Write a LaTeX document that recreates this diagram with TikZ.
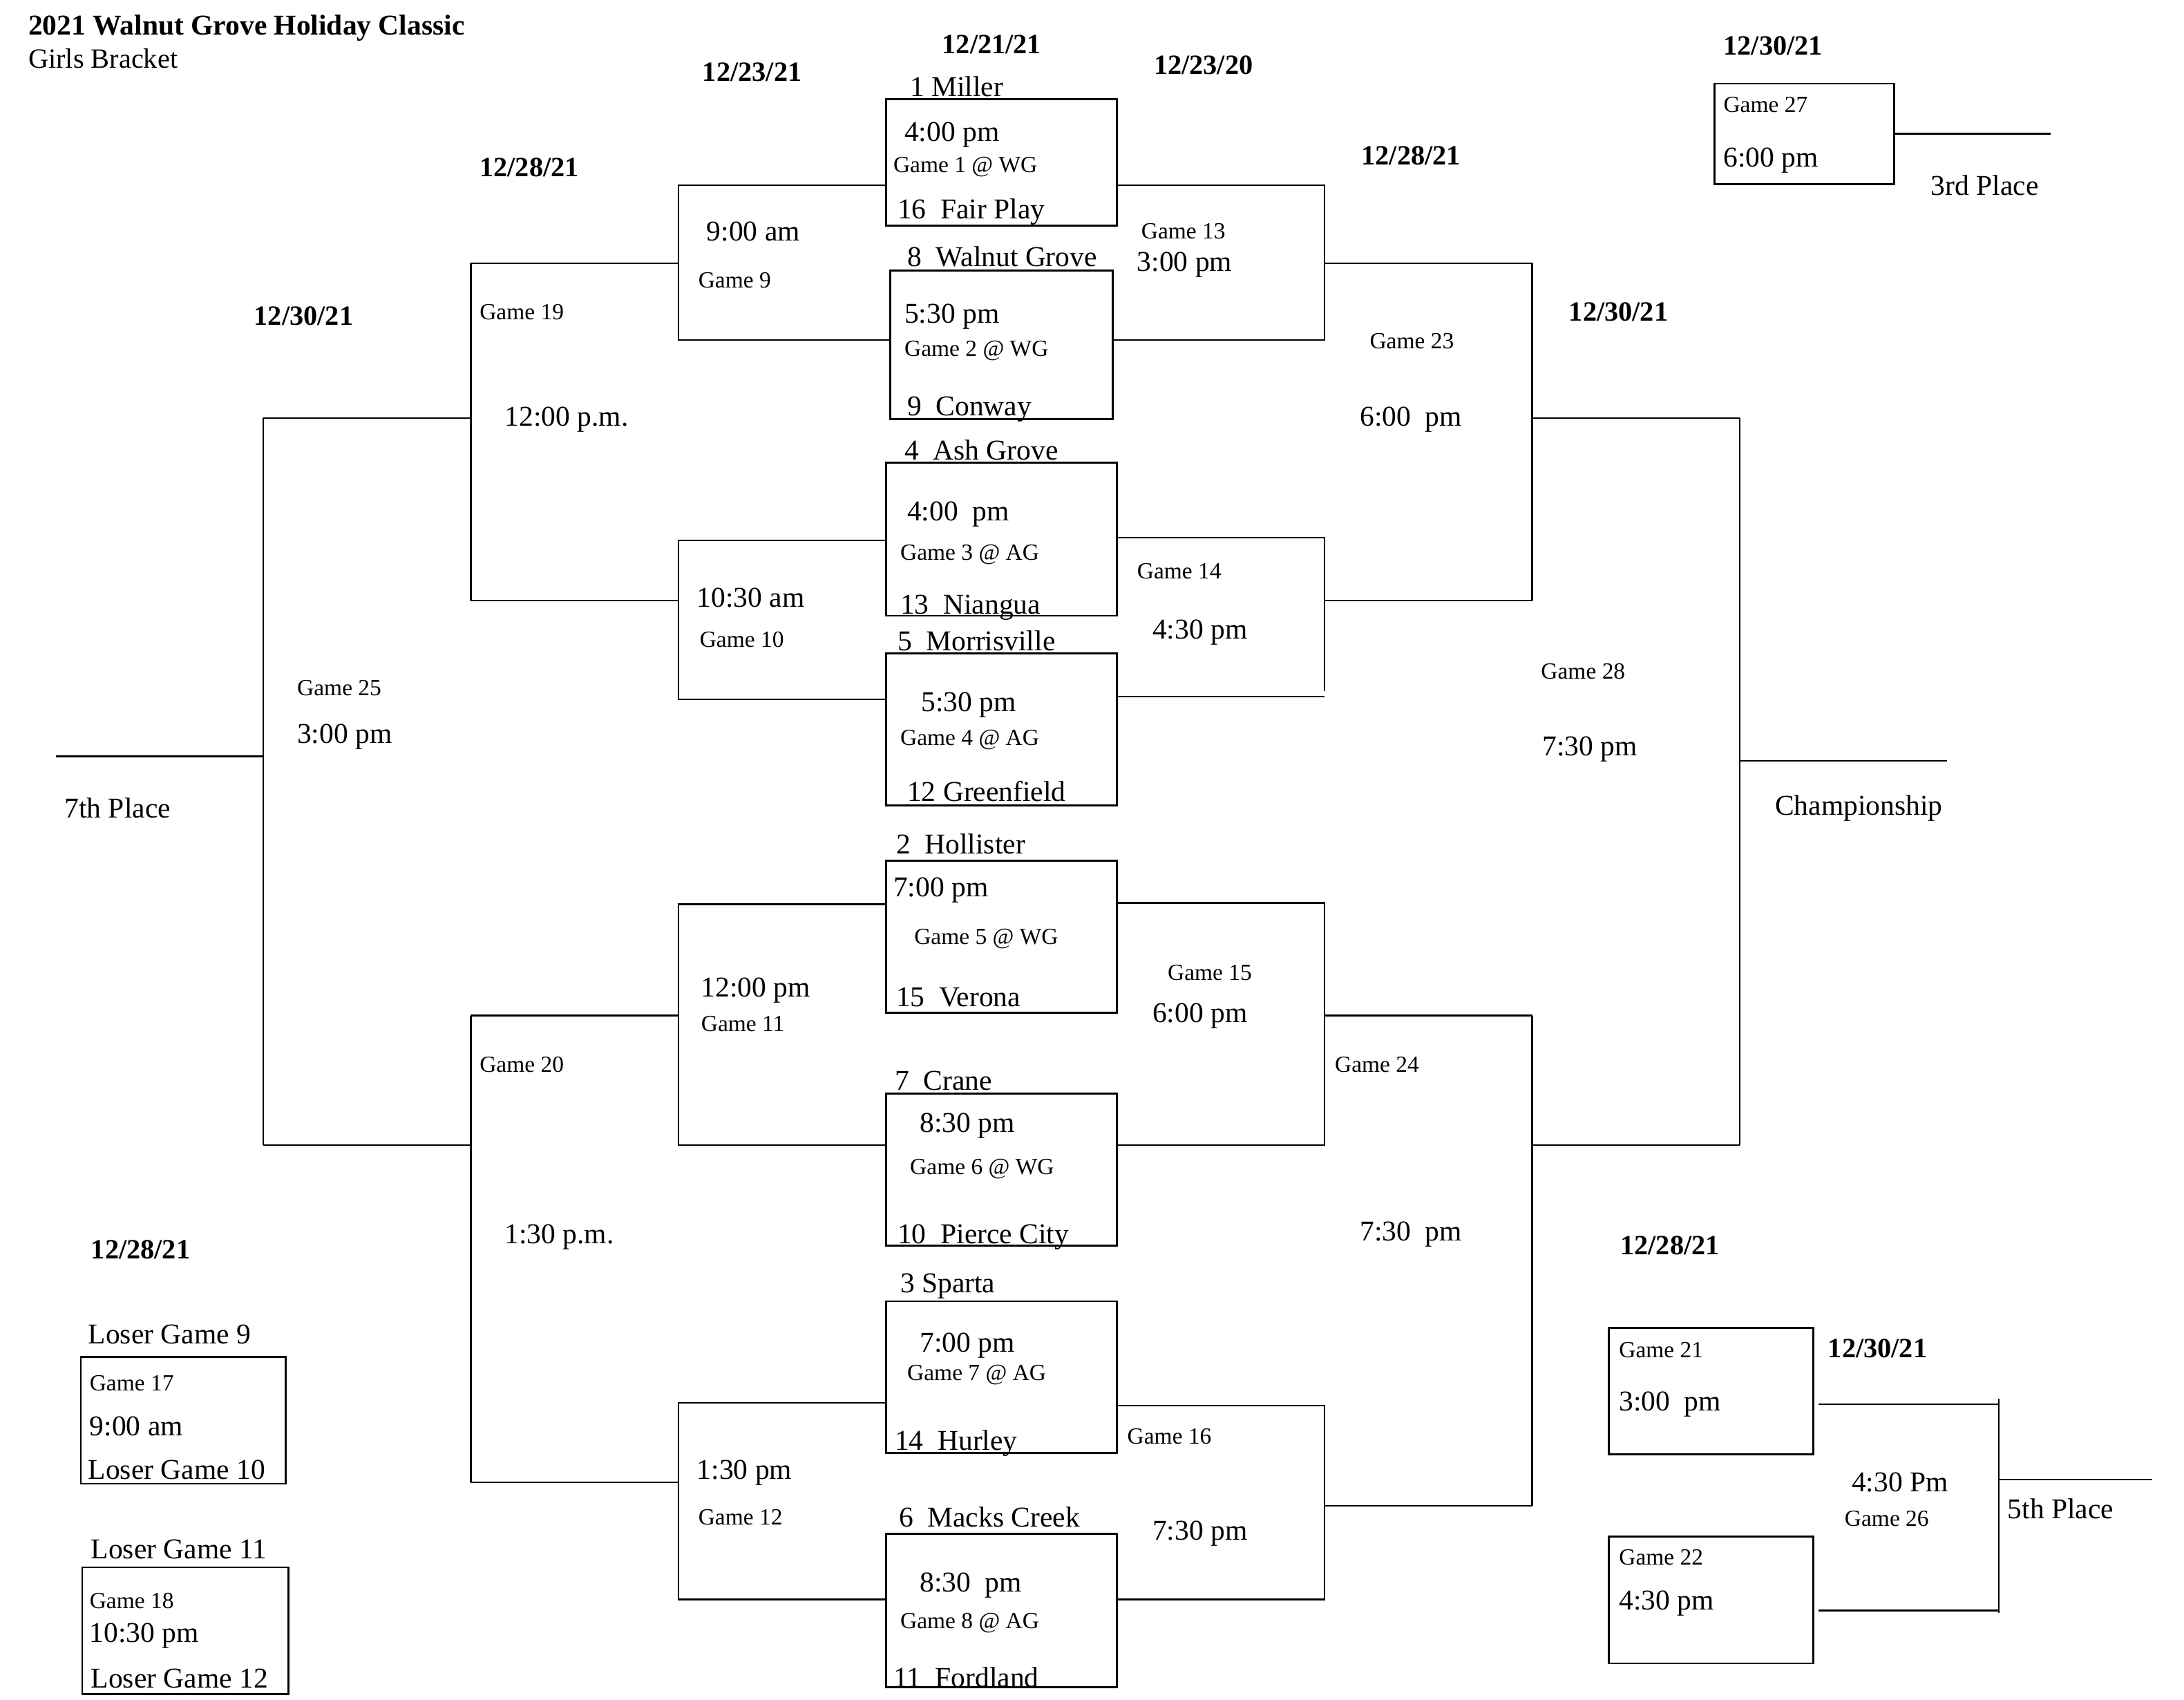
\documentclass[tikz,border=0pt]{standalone}
\usepackage{fontspec}
\setmainfont{Liberation Serif}
\usetikzlibrary{fit}
\begin{document}
\begin{tikzpicture}[x=0.5pt,y=-0.5pt,
  ln/.style={line width=0.6pt},
  gbox/.style={draw,line width=0.7pt,inner sep=0pt},
  big/.style={anchor=west,inner sep=0pt,yshift=-1pt,font=\fontsize{10.3}{12}\selectfont},
  small/.style={anchor=west,inner sep=0pt,yshift=-1pt,font=\fontsize{8.3}{10}\selectfont},
  dt/.style={anchor=center,inner sep=0pt,font=\fontsize{10}{12}\selectfont\bfseries}]
\useasboundingbox[fill=white] (0,0) rectangle (1568,1220);

% title
\node[anchor=west,inner sep=0pt,font=\fontsize{10.3}{12}\selectfont\bfseries] (title) at (20,20) {2021 Walnut Grove Holiday Classic};
\node[anchor=west,inner sep=0pt,font=\fontsize{10}{12}\selectfont] (subtitle) at (20,42) {Girls Bracket};

% dates
\foreach \x/\y/\t [count=\i] in {712/32/{12/21/21}, 540/52/{12/23/21}, 864/47/{12/23/20}, 380/120/{12/28/21}, 1013/112/{12/28/21}, 218/227/{12/30/21}, 1162/224/{12/30/21}, 1273/33/{12/30/21}, 101/897/{12/28/21}, 1199/894/{12/28/21}, 1348/968/{12/30/21}}
  \node[dt,name=d\i] at (\x,\y) {\t};

% game boxes
\node[gbox,fit={(636,71) (802,162)}] (g1) {};
\node[gbox,fit={(639,194) (799,301)}] (g2) {};
\node[gbox,fit={(636,332) (802,442)}] (g3) {};
\node[gbox,fit={(636,469) (802,578)}] (g4) {};
\node[gbox,fit={(636,618) (802,727)}] (g5) {};
\node[gbox,fit={(636,785) (802,894)}] (g6) {};
\node[gbox,fit={(636,934) (802,1043)}] (g7) {};
\node[gbox,fit={(636,1101) (802,1211)}] (g8) {};
\node[gbox,fit={(1231,60) (1360,132)}] (g27) {};
\node[gbox,fit={(58,974) (205,1065)}] (g17) {};
\node[gbox,fit={(59,1125) (207,1216)}] (g18) {};
\node[gbox,fit={(1155,953) (1302,1044)}] (g21) {};
\node[gbox,fit={(1155,1103) (1302,1194)}] (g22) {};

% bracket coordinates
\coordinate (a9) at (487,133);  \coordinate (b9) at (487,244);  \coordinate (o9) at (338,189);
\coordinate (a13) at (951,133); \coordinate (b13) at (951,244); \coordinate (o13) at (1100,189);
\coordinate (a10) at (487,388); \coordinate (b10) at (487,502); \coordinate (o10) at (338,431);
\coordinate (a14) at (951,386); \coordinate (b14) at (951,500); \coordinate (c14) at (951,496); \coordinate (o14) at (1100,431);
\coordinate (a11) at (487,649); \coordinate (b11) at (487,822); \coordinate (o11) at (338,729);
\coordinate (a15) at (951,648); \coordinate (b15) at (951,822); \coordinate (o15) at (1100,729);
\coordinate (a12) at (487,1007); \coordinate (b12) at (487,1148); \coordinate (o12) at (338,1064);
\coordinate (a16) at (951,1009); \coordinate (b16) at (951,1148); \coordinate (o16) at (1100,1081);
\coordinate (o19) at (189,300); \coordinate (o23) at (1249,300);
\coordinate (o20) at (189,822); \coordinate (o24) at (1249,822);
\coordinate (o25) at (40,543);  \coordinate (o28) at (1398,546);
\coordinate (o27) at (1472,96);
\coordinate (a26) at (1435,1008); \coordinate (b26) at (1435,1156); \coordinate (o26) at (1545,1062);

% round 1 -> quarterfinals
\draw[ln] (g1.west |- a9) -- (a9) -- (b9) -- (g2.west |- b9);
\draw[ln] (a9 |- o9) -- (o9);
\draw[ln] (g1.east |- a13) -- (a13) -- (b13) -- (g2.east |- b13);
\draw[ln] (a13 |- o13) -- (o13);
\draw[ln] (g3.west |- a10) -- (a10) -- (b10) -- (g4.west |- b10);
\draw[ln] (a10 |- o10) -- (o10);
\draw[ln] (g3.east |- a14) -- (a14) -- (c14);
\draw[ln] (g4.east |- b14) -- (b14);
\draw[ln] (a14 |- o14) -- (o14);
\draw[ln] (g5.west |- a11) -- (a11) -- (b11) -- (g6.west |- b11);
\draw[ln] (a11 |- o11) -- (o11);
\draw[ln] (g5.east |- a15) -- (a15) -- (b15) -- (g6.east |- b15);
\draw[ln] (a15 |- o15) -- (o15);
\draw[ln] (g7.west |- a12) -- (a12) -- (b12) -- (g8.west |- b12);
\draw[ln] (a12 |- o12) -- (o12);
\draw[ln] (g7.east |- a16) -- (a16) -- (b16) -- (g8.east |- b16);
\draw[ln] (a16 |- o16) -- (o16);

% semis
\draw[ln] (o9) -- (o10);
\draw[ln] (o9 |- o19) -- (o19);
\draw[ln] (o13) -- (o14);
\draw[ln] (o13 |- o23) -- (o23);
\draw[ln] (o11) -- (o12);
\draw[ln] (o11 |- o20) -- (o20);
\draw[ln] (o15) -- (o16);
\draw[ln] (o15 |- o24) -- (o24);

% finals
\draw[ln] (o19) -- (o20);
\draw[ln] (o19 |- o25) -- (o25);
\draw[ln] (o23) -- (o24);
\draw[ln] (o23 |- o28) -- (o28);

% 3rd place
\draw[ln] (g27.east |- o27) -- (o27);

% 5th place
\draw[ln] ([xshift=1.5pt]g21.east |- a26) -- (a26);
\draw[ln] ([xshift=1.5pt]g22.east |- b26) -- (b26);
\draw[ln] ([yshift=2pt]a26) -- ([yshift=-1pt]b26);
\draw[ln] (a26 |- o26) -- (o26);

% big texts
\foreach \x/\y/\t [count=\i] in {
 653/60/1 Miller, 649/95/4:00 pm, 644/150/16~~Fair Play,
 651/182/8~~Walnut Grove, 649/225/5:30 pm, 651/292/9~~Conway,
 649/321/4~~Ash Grove, 651/367/4:00~~pm, 646/434/13~~Niangua,
 644/458/5~~Morrisville, 661/504/5:30 pm, 651/566/12 Greenfield,
 643/604/2~~Hollister, 641/637/7:00 pm, 643/714/15~~Verona,
 642/774/7~~Crane, 660/806/8:30 pm, 644/886/10~~Pierce City,
 646/921/3 Sparta, 660/964/7:00 pm, 642/1034/14~~Hurley,
 645/1087/6~~Macks Creek, 660/1136/8:30~~pm, 641/1202/11~~Fordland,
 507/164/9:00 am, 500/427/10:30 am, 503/709/12:00 pm, 500/1055/1:30 pm,
 816/188/3:00 pm, 827/452/4:30 pm, 827/727/6:00 pm, 827/1099/7:30 pm,
 362/299/12:00 p.m., 362/886/1:30 p.m., 976/299/6:00~~pm, 976/884/7:30~~pm,
 213/527/3:00 pm, 1107/536/7:30 pm, 46/578/7th Place, 1274/578/Championship,
 1237/113/6:00 pm, 1386/131/3rd Place,
 63/956/Loser Game 9, 64/1022/9:00 am, 63/1053/Loser Game 10,
 65/1110/Loser Game 11, 64/1172/10:30 pm, 65/1203/Loser Game 12,
 1162/1006/3:00~~pm, 1162/1149/4:30 pm, 1329/1062/4:30 Pm, 1441/1081/5th Place}
  \node[big,name=t\i] at (\x,\y) {\t};

% small texts
\foreach \x/\y/\t [count=\i] in {
 641/118/Game 1 @ WG, 649/250/Game 2 @ WG, 646/396/Game 3 @ AG, 646/529/Game 4 @ AG,
 656/672/Game 5 @ WG, 653/837/Game 6 @ WG, 651/985/Game 7 @ AG, 646/1163/Game 8 @ AG,
 501/199/Game 9, 502/457/Game 10, 503/733/Game 11, 501/1087/Game 12,
 819/164/Game 13, 816/408/Game 14, 838/696/Game 15, 809/1029/Game 16,
 344/222/Game 19, 344/762/Game 20, 983/243/Game 23, 958/762/Game 24,
 213/492/Game 25, 1106/480/Game 28, 1237/73/Game 27,
 64/991/Game 17, 64/1147/Game 18, 1162/967/Game 21, 1162/1116/Game 22, 1324/1088/Game 26}
  \node[small,name=s\i] at (\x,\y) {\t};
\end{tikzpicture}
\end{document}
